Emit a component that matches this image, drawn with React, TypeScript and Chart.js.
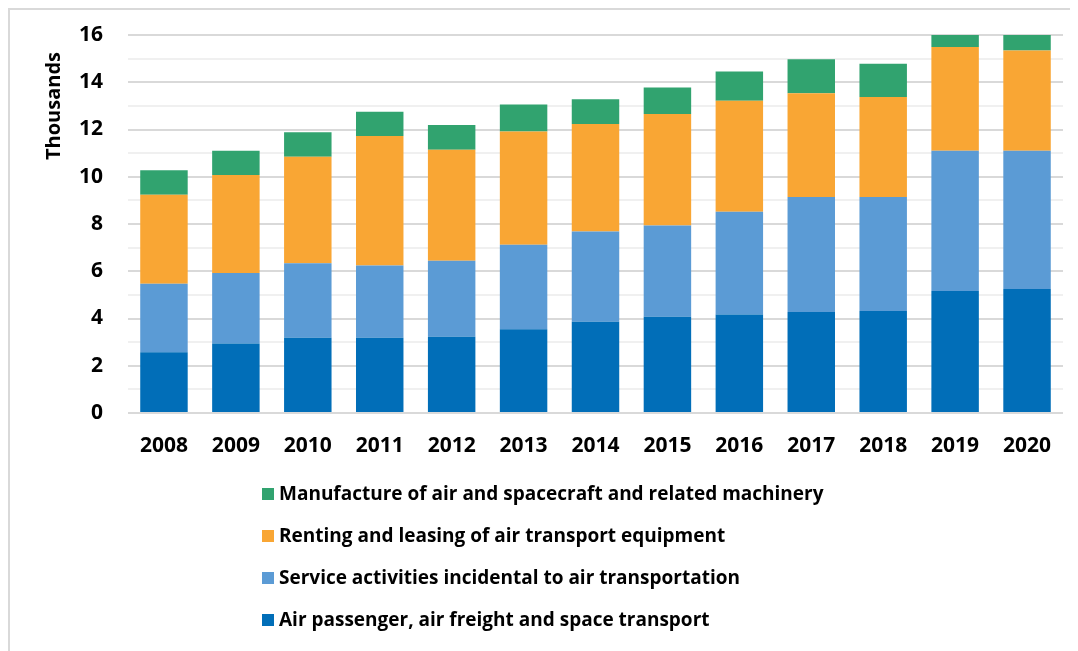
import { useEffect, useRef } from 'react';
import { Chart, registerables } from 'chart.js';

Chart.register(...registerables);

const years = ['2008', '2009', '2010', '2011', '2012', '2013', '2014', '2015', '2016', '2017', '2018', '2019', '2020'];
const airPassenger = [2.57, 2.94, 3.19, 3.19, 3.23, 3.55, 3.86, 4.07, 4.17, 4.28, 4.32, 5.16, 5.25];
const serviceActivities = [2.9, 2.99, 3.15, 3.05, 3.21, 3.57, 3.82, 3.87, 4.35, 4.86, 4.82, 5.94, 5.85];
const rentingLeasing = [3.77, 4.14, 4.51, 5.48, 4.7, 4.8, 4.55, 4.72, 4.7, 4.39, 4.24, 4.39, 4.24];
const manufacture = [1.03, 1.03, 1.03, 1.03, 1.05, 1.14, 1.05, 1.12, 1.24, 1.44, 1.4, 1.1, 1.1];

const seriesNames = [
  'Air passenger, air freight and space transport',
  'Service activities incidental to air transportation',
  'Renting and leasing of air transport equipment',
  'Manufacture of air and spacecraft and related machinery',
];
const seriesColors = ['#016EB8', '#5B9BD5', '#F9A634', '#31A36F'];
const yTitle = 'Thousands';

const FONT = '"Open Sans", "Noto Sans", sans-serif';

const verticalLegend = {
  id: 'verticalLegend',
  afterDraw(chart: any) {
    const ctx = chart.ctx;
    const ds = chart.data.datasets;
    ctx.save();
    ctx.font = `bold 19px ${FONT}`;
    ctx.textBaseline = 'middle';
    ctx.textAlign = 'left';
    const boxX = 252;
    const textX = 269;
    const firstY = 484;
    const step = 42;
    for (let i = ds.length - 1, row = 0; i >= 0; i--, row++) {
      const cy = firstY + row * step;
      ctx.fillStyle = ds[i].backgroundColor;
      ctx.fillRect(boxX, cy - 6, 12, 12);
      ctx.fillStyle = '#000000';
      ctx.fillText(ds[i].label, textX, cy + 1);
    }
    // y-axis title, placed near the top of the axis
    ctx.translate(44, 150);
    ctx.rotate(-Math.PI / 2);
    ctx.font = `bold 20px ${FONT}`;
    ctx.textAlign = 'left';
    ctx.textBaseline = 'middle';
    ctx.fillText(yTitle, 0, 0);
    ctx.restore();
  },
};

export default function App() {
  const ref = useRef<HTMLCanvasElement | null>(null);

  useEffect(() => {
    if (!ref.current) return;
    const values = [airPassenger, serviceActivities, rentingLeasing, manufacture];
    const chart = new Chart(ref.current, {
      type: 'bar',
      data: {
        labels: years,
        datasets: values.map((v, i) => ({
          label: seriesNames[i],
          data: v,
          backgroundColor: seriesColors[i],
          borderWidth: 0,
          categoryPercentage: 1,
          barPercentage: 0.66,
        })),
      },
      plugins: [verticalLegend],
      options: {
        animation: false,
        responsive: false,
        maintainAspectRatio: false,
        layout: { padding: { top: 25, right: 15, left: 0, bottom: 188 } },
        plugins: {
          legend: { display: false },
          tooltip: { enabled: false },
        },
        scales: {
          x: {
            stacked: true,
            grid: { display: false, drawTicks: false },
            border: { display: false },
            ticks: {
              color: '#000000',
              font: { family: FONT, size: 21, weight: 'bold' },
              padding: 20,
              maxRotation: 0,
            },
            afterFit: (s: any) => {
              s.height = 50;
            },
          },
          y: {
            stacked: true,
            min: 0,
            max: 16,
            border: { display: false },
            grid: {
              drawTicks: true,
              tickLength: 25,
              tickColor: 'rgba(0,0,0,0)',
              lineWidth: 2,
              color: (c: any) => (c.tick && c.tick.value % 2 === 0 ? '#d9d9d9' : '#f0f0f0'),
            },
            ticks: {
              stepSize: 1,
              autoSkip: false,
              color: '#000000',
              padding: 0,
              font: { family: FONT, size: 21, weight: 'bold' },
              callback: (v: any) => (Number(v) % 2 === 0 ? String(v) : ''),
            },
            title: { display: false },
            afterFit: (s: any) => {
              s.width = 118;
            },
          },
        },
      },
    });
    return () => chart.destroy();
  }, []);

  return (
    <div
      style={{
        width: 1070,
        height: 643,
        borderTop: '2px solid #d9d9d9',
        borderLeft: '2px solid #d9d9d9',
        overflow: 'hidden',
        background: '#ffffff',
      }}
    >
      <canvas ref={ref} width={1068} height={641} style={{ display: 'block' }} />
    </div>
  );
}
